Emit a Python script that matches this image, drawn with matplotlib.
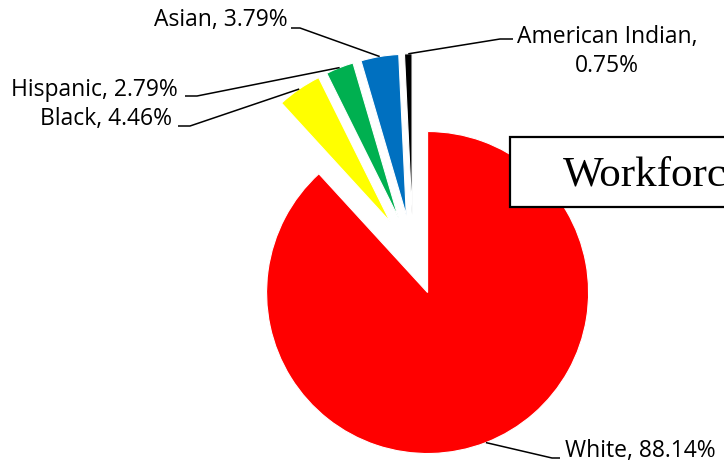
import math
import matplotlib
matplotlib.use('Agg')
import matplotlib.pyplot as plt
from matplotlib.patches import Rectangle

groups = ['White', 'Black', 'Hispanic', 'Asian', 'American Indian']
shares = [88.14, 4.46, 2.79, 3.79, 0.75]
colors = ['#FF0000', '#FFFF00', '#00B050', '#0070C0', '#000000']
title_text = 'Workforce'

W, H = 724, 463
CX, CY, R = 413, 255, 161  # pie centre / radius in pixels (origin top-left)


def px(x, y):
    # pixel position (top-left origin) -> data units where radius = 1
    return (x - CX) / R, (CY - y) / R


# text anchor (last baseline), alignment, elbow of the leader line, end of its stub
label_layout = {
    'White': ((565, 457), 'left', (552, 458), (560, 458)),
    'Black': ((172, 125), 'right', (190, 126), (178, 126)),
    'Hispanic': ((178, 96), 'right', (197, 96), (185, 96)),
    'Asian': ((288, 26), 'right', (300, 28), (291, 28)),
    'American Indian': ((607, 72), 'center', (500, 39), (513, 39)),
}


def make_label(group, share):
    sep = ',\n' if group == 'American Indian' else ', '
    return f'{group}{sep}{share:.2f}%'


def main():
    fig = plt.figure(figsize=(W / 100, H / 100), dpi=100)
    ax = fig.add_axes([0, 0, 1, 1])

    wedges, _ = ax.pie(shares, colors=colors, startangle=90, counterclock=False,
                       explode=[0.25] * len(shares), radius=1, center=(0, 0),
                       wedgeprops=dict(edgecolor='white', linewidth=0.8))

    # pie() resets the limits, so set them afterwards
    ax.set_xlim(-CX / R, (W - CX) / R)
    ax.set_ylim((CY - H) / R, CY / R)
    ax.set_aspect('equal')
    ax.axis('off')

    for w, group, share in zip(wedges, groups, shares):
        mid = math.radians((w.theta1 + w.theta2) / 2)
        sx = w.center[0] + w.r * math.cos(mid)
        sy = w.center[1] + w.r * math.sin(mid)
        (tx, ty), ha, elbow, stub = label_layout[group]
        ex, ey = px(*elbow)
        bx, by = px(*stub)
        ax.plot([sx, ex, bx], [sy, ey, by], color='black', lw=1.1,
                solid_capstyle='butt', zorder=3)
        ax.text(*px(tx, ty), make_label(group, share), ha=ha, va='baseline',
                multialignment='center', fontsize=16.5, family='Open Sans',
                linespacing=1.25)

    # title box, cut off by the right edge in the original
    x0, y0 = px(510, 207)
    x1, y1 = px(800, 137)
    ax.add_patch(Rectangle((x0, y0), x1 - x0, y1 - y0, facecolor='white',
                           edgecolor='black', lw=1.6, zorder=4))
    ax.text(*px(563, 185), title_text, fontsize=31, family='Liberation Serif',
            va='baseline', ha='left', zorder=5)

    fig.savefig('out.png', dpi=100)
    plt.close(fig)


if __name__ == '__main__':
    main()
